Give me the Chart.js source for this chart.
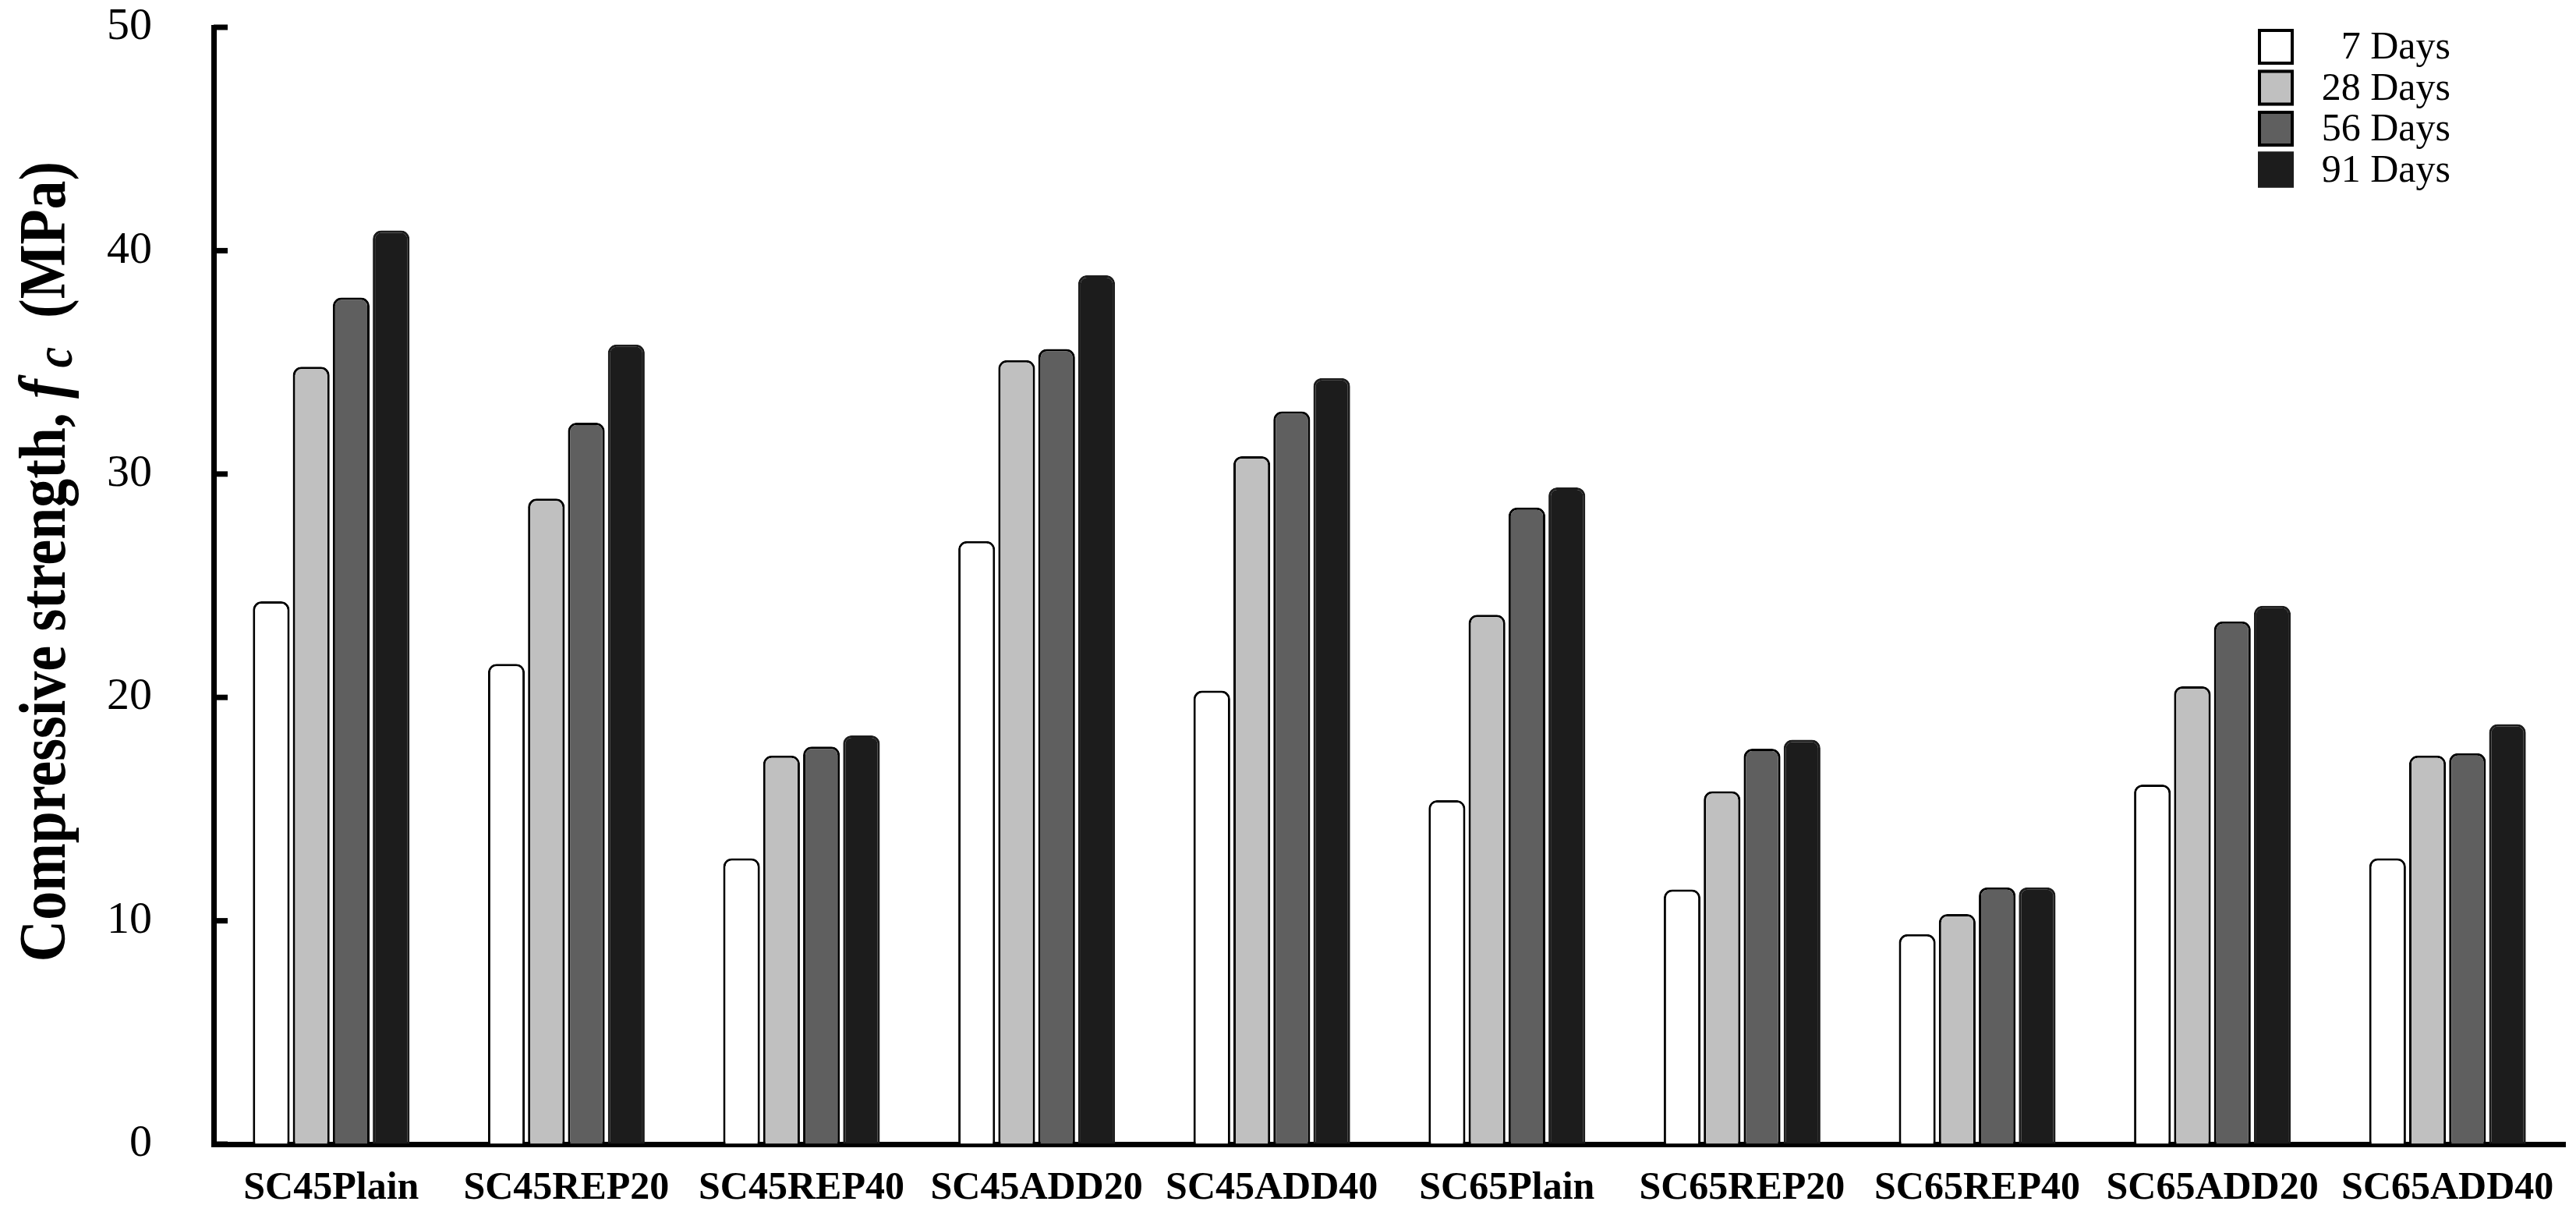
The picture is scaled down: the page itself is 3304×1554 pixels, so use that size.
<!DOCTYPE html>
<html>
<head>
<meta charset="utf-8">
<title>Compressive strength</title>
<script src="https://cdn.jsdelivr.net/npm/chart.js@4.4.1/dist/chart.umd.min.js"></script>
<style>
  html, body { margin: 0; padding: 0; background: #fff; }
  canvas { display: block; }
</style>
</head>
<body>
<canvas id="grafico" width="3304" height="1554"></canvas>
<script>
// dati (MPa)
let categorie = ['SC45Plain', 'SC45REP20', 'SC45REP40', 'SC45ADD20', 'SC45ADD40',
                 'SC65Plain', 'SC65REP20', 'SC65REP40', 'SC65ADD20', 'SC65ADD40'];
let etichette = ['7 Days', '28 Days', '56 Days', '91 Days'];
let giorni7  = [24.3, 21.5, 12.8, 27.0, 20.3, 15.4, 11.4,  9.4, 16.1, 12.8];
let giorni28 = [34.8, 28.9, 17.4, 35.1, 30.8, 23.7, 15.8, 10.3, 20.5, 17.4];
let giorni56 = [37.9, 32.3, 17.8, 35.6, 32.8, 28.5, 17.7, 11.5, 23.4, 17.5];
let giorni91 = [40.9, 35.8, 18.3, 38.9, 34.3, 29.4, 18.1, 11.5, 24.1, 18.8];
let tickY = [0, 10, 20, 30, 40, 50];

let serie = [giorni7, giorni28, giorni56, giorni91];
let riempimenti = ['#ffffff', '#c0c0c0', '#5f5f5f', '#1c1c1c'];
let bordi = ['#000000', '#000000', '#000000', '#1c1c1c'];

let font = '"Liberation Serif", "Times New Roman", serif';

let dati = {
    labels: categorie,
    datasets: serie.map((valori, i) => ({
        label: etichette[i],
        data: valori,
        backgroundColor: riempimenti[i],
        borderColor: bordi[i],
        borderWidth: 3,
        borderSkipped: 'bottom',
        borderRadius: { topLeft: 11, topRight: 11, bottomLeft: 0, bottomRight: 0 },
        categoryPercentage: 0.68,
        barPercentage: 0.92
    }))
};

// tacche verso l'interno sull'asse y
let tacche = {
    id: 'tacche',
    afterDraw(chart) {
        let ctx = chart.ctx, y = chart.scales.y, x0 = chart.chartArea.left;
        ctx.save();
        ctx.strokeStyle = '#000';
        ctx.lineWidth = 7;
        y.ticks.forEach(t => {
            let py = y.getPixelForValue(t.value);
            ctx.beginPath();
            ctx.moveTo(x0, py);
            ctx.lineTo(x0 + 18, py);
            ctx.stroke();
        });
        ctx.restore();
    }
};

// titolo asse y con f pedice c
let titoloY = {
    id: 'titoloY',
    afterDraw(chart) {
        let ctx = chart.ctx;
        let pezzi = [
            { t: 'Compressive strength, ', f: 'bold 84px ' + font, dy: 0 },
            { t: 'f', f: 'italic bold 84px ' + font, dy: 0 },
            { t: ' c', f: 'italic bold 68px ' + font, dy: 9 },
            { t: '  (MPa)', f: 'bold 84px ' + font, dy: 0 }
        ];
        ctx.save();
        let totale = 0;
        pezzi.forEach(p => { ctx.font = p.f; p.w = ctx.measureText(p.t).width; totale += p.w; });
        ctx.translate(83, 720);
        ctx.rotate(-Math.PI / 2);
        ctx.scale(0.88, 1);
        ctx.fillStyle = '#000';
        ctx.textBaseline = 'alphabetic';
        ctx.textAlign = 'left';
        let x = -totale / 2;
        pezzi.forEach(p => {
            ctx.font = p.f;
            ctx.fillText(p.t, x, p.dy);
            x += p.w;
        });
        ctx.restore();
    }
};

// legenda in alto a destra
let legenda = {
    id: 'legenda',
    afterDraw(chart) {
        let ctx = chart.ctx;
        ctx.save();
        chart.data.datasets.forEach((ds, i) => {
            let top = 37 + i * 52.5;
            ctx.fillStyle = ds.backgroundColor;
            ctx.fillRect(2896, top, 46, 46);
            ctx.strokeStyle = ds.borderColor;
            ctx.lineWidth = 4;
            ctx.strokeRect(2898, top + 2, 42, 42);
            ctx.fillStyle = '#000';
            ctx.font = '50px ' + font;
            ctx.textAlign = 'right';
            ctx.textBaseline = 'alphabetic';
            ctx.fillText(ds.label, 3143, top + 38);
        });
        ctx.restore();
    }
};

let config = {
    type: 'bar',
    data: dati,
    options: {
        responsive: false,
        animation: false,
        devicePixelRatio: 1,
        layout: { padding: { top: 35, right: 14, left: 0, bottom: 0 } },
        plugins: {
            legend: { display: false },
            tooltip: { enabled: false }
        },
        scales: {
            x: {
                z: 1,
                afterFit: s => { s.height = 87; s.paddingLeft = 0; s.paddingRight = 0; },
                grid: { display: true, drawOnChartArea: false, drawTicks: false },
                border: { display: true, color: '#000', width: 7 },
                ticks: {
                    color: '#000',
                    padding: 27,
                    maxRotation: 0,
                    autoSkip: false,
                    font: { family: font, size: 50, weight: 'bold' }
                }
            },
            y: {
                z: 1,
                min: 0,
                max: 50,
                afterFit: s => { s.width = 274; s.paddingTop = 0; s.paddingBottom = 0; },
                afterBuildTicks: s => { s.ticks = tickY.map(v => ({ value: v })); },
                grid: { display: true, drawOnChartArea: false, drawTicks: false },
                border: { display: true, color: '#000', width: 7 },
                ticks: {
                    color: '#000',
                    padding: 79,
                    font: { family: font, size: 58 }
                }
            }
        }
    },
    plugins: [tacche, titoloY, legenda]
};

let ctx = document.getElementById('grafico').getContext('2d');
new Chart(ctx, config);
</script>
</body>
</html>
